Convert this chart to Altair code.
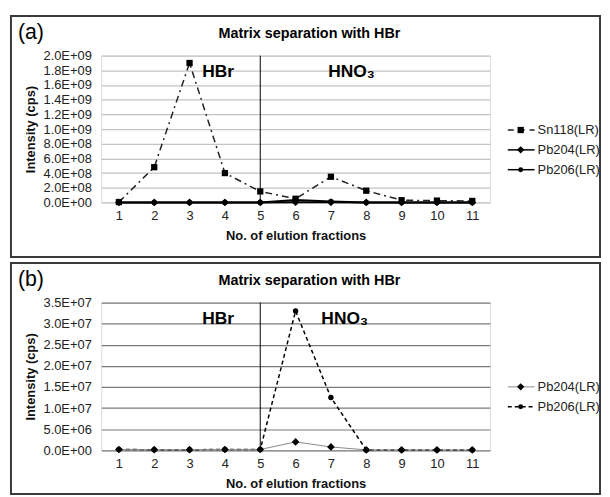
import altair as alt
import pandas as pd

# ---- data ----
fractions = [1, 2, 3, 4, 5, 6, 7, 8, 9, 10, 11]
sn118 = [5e6, 4.8e8, 1.9e9, 4.0e8, 1.5e8, 5.0e7, 3.5e8, 1.6e8, 3.0e7, 2.5e7, 2.0e7]
pb204 = [2e5, 1.5e5, 1.5e5, 2e5, 2e5, 2.0e6, 8.0e5, 1e5, 1e5, 1e5, 1e5]
pb206 = [2e5, 1.5e5, 1.5e5, 2e5, 2e5, 3.3e7, 1.25e7, 1e5, 1e5, 1e5, 1e5]

ticks_a = [i * 2e8 for i in range(11)]
ticks_b = [i * 5e6 for i in range(8)]

title_text = "Matrix separation with HBr"
x_title = "No. of elution fractions"
y_title = "Intensity (cps)"

df = pd.DataFrame({"fraction": fractions, "Sn118": sn118, "Pb204": pb204, "Pb206": pb206})
one = pd.DataFrame({"k": [0]})

FONT = "Liberation Sans"
W = 392
LABEL_EXPR = "replace(format(datum.value, '.1e'), 'e+', 'E+0')"


def xenc():
    return alt.X(
        "fraction:O",
        scale=alt.Scale(type="point", padding=0.5, domain=fractions),
        axis=alt.Axis(title=x_title, grid=False, ticks=False, domain=False, labelAngle=0,
                      labelOverlap=False, labelPadding=7, titlePadding=7, labelFontSize=13,
                      titleFontSize=13, titleFontWeight="bold", labelColor="#222",
                      titleColor="#111"),
    )


def yenc(field, top, ticks, gridcolor):
    return alt.Y(
        f"{field}:Q",
        scale=alt.Scale(domain=[0, top], nice=False),
        axis=alt.Axis(values=ticks, title=y_title, labelExpr=LABEL_EXPR, ticks=False, domain=False,
                      labelOverlap=False, gridColor=gridcolor, gridWidth=1.2, labelPadding=10,
                      titlePadding=5, labelFontSize=13, titleFontSize=13, titleFontWeight="bold",
                      labelColor="#222", titleColor="#111"),
    )


def series(field, top, ticks, gridcolor, line_kw, pt_kw):
    base = alt.Chart(df)
    ln = base.mark_line(**line_kw).encode(x=xenc(), y=yenc(field, top, ticks, gridcolor))
    pt = base.mark_point(filled=True, opacity=1, color="black", **pt_kw).encode(
        x=xenc(), y=yenc(field, top, ticks, gridcolor))
    return [ln, pt]


def deco_text(text, x, y, size, weight="bold", align="left"):
    return alt.Chart(one).mark_text(text=text, fontSize=size, fontWeight=weight, align=align,
                                    baseline="middle", font=FONT, color="black").encode(
        x=alt.value(x), y=alt.value(y))


def legend_entry(label, y, line_kw, shape, size):
    r = alt.Chart(one).mark_rule(**line_kw).encode(
        x=alt.value(410), x2=alt.value(437), y=alt.value(y))
    p = alt.Chart(one).mark_point(shape=shape, size=size, filled=True, opacity=1, color="black").encode(
        x=alt.value(423), y=alt.value(y))
    t = alt.Chart(one).mark_text(text=label, fontSize=13, align="left", baseline="middle",
                                 font=FONT, color="#222").encode(x=alt.value(440), y=alt.value(y))
    return [r, p, t]


def panel(tag, H, border_bottom, top, ticks, gridcolor, layers, legend, hbr_x, hno_x):
    border = alt.Chart(one).mark_rect(fillOpacity=0, stroke="#3a3a3a", strokeWidth=2).encode(
        x=alt.value(-91), x2=alt.value(503), y=alt.value(-40), y2=alt.value(border_bottom))
    vline = alt.Chart(one).mark_rule(color="black", strokeWidth=1).encode(
        x=alt.datum(5, type="ordinal"), y=alt.value(0), y2=alt.value(H))
    texts = [
        deco_text(tag, -84, -23, 21.5, weight="normal"),
        deco_text(title_text, 210, -22, 14.5, align="center"),
        deco_text("HBr", hbr_x, 17, 17.5, align="center"),
        deco_text("HNO₃", hno_x, 17, 17.5),
    ]
    return alt.layer(*layers, vline, *legend, *texts, border).properties(width=W, height=H)


sn_line = dict(color="#222", strokeWidth=1.5, strokeDash=[7, 4, 2, 4])
pb_solid = dict(color="black", strokeWidth=2)

layers_a = (
    series("Sn118", 2e9, ticks_a, "#c4c4c4", sn_line, dict(shape="square", size=40))
    + series("Pb206", 2e9, ticks_a, "#c4c4c4", pb_solid, dict(shape="circle", size=30))
    + series("Pb204", 2e9, ticks_a, "#c4c4c4", pb_solid, dict(shape="diamond", size=60))
)
legend_a = (
    legend_entry("Sn118(LR)", 75, dict(color="#222", strokeWidth=1.5, strokeDash=[6, 5]), "square", 40)
    + legend_entry("Pb204(LR)", 95, dict(color="black", strokeWidth=1.5), "diamond", 55)
    + legend_entry("Pb206(LR)", 115, dict(color="black", strokeWidth=1.5), "circle", 25)
)

layers_b = (
    series("Pb206", 3.5e7, ticks_b, "#7a7a7a", dict(color="black", strokeWidth=1.5, strokeDash=[4, 3]),
           dict(shape="circle", size=30))
    + series("Pb204", 3.5e7, ticks_b, "#7a7a7a", dict(color="#8a8a8a", strokeWidth=1),
             dict(shape="diamond", size=60))
)
legend_b = (
    legend_entry("Pb204(LR)", 85, dict(color="#8a8a8a", strokeWidth=1), "diamond", 55)
    + legend_entry("Pb206(LR)", 105, dict(color="black", strokeWidth=1.5, strokeDash=[4, 3]), "circle", 25)
)

pa = panel("(a)", 148, 203, 2e9, ticks_a, "#c4c4c4", layers_a, legend_a, 118, 229)
pb = panel("(b)", 149, 193, 3.5e7, ticks_b, "#7a7a7a", layers_b, legend_b, 118, 222)

chart = alt.vconcat(pa, pb, spacing=2).properties(
    padding={"left": 1, "top": 4, "right": 0, "bottom": 0}
).resolve_scale(y="independent").configure_view(
    stroke="#8c8c8c", strokeWidth=1.2
).configure(font=FONT, background="white")

chart.save("out.html", embed_options={"renderer": "svg", "actions": False})
